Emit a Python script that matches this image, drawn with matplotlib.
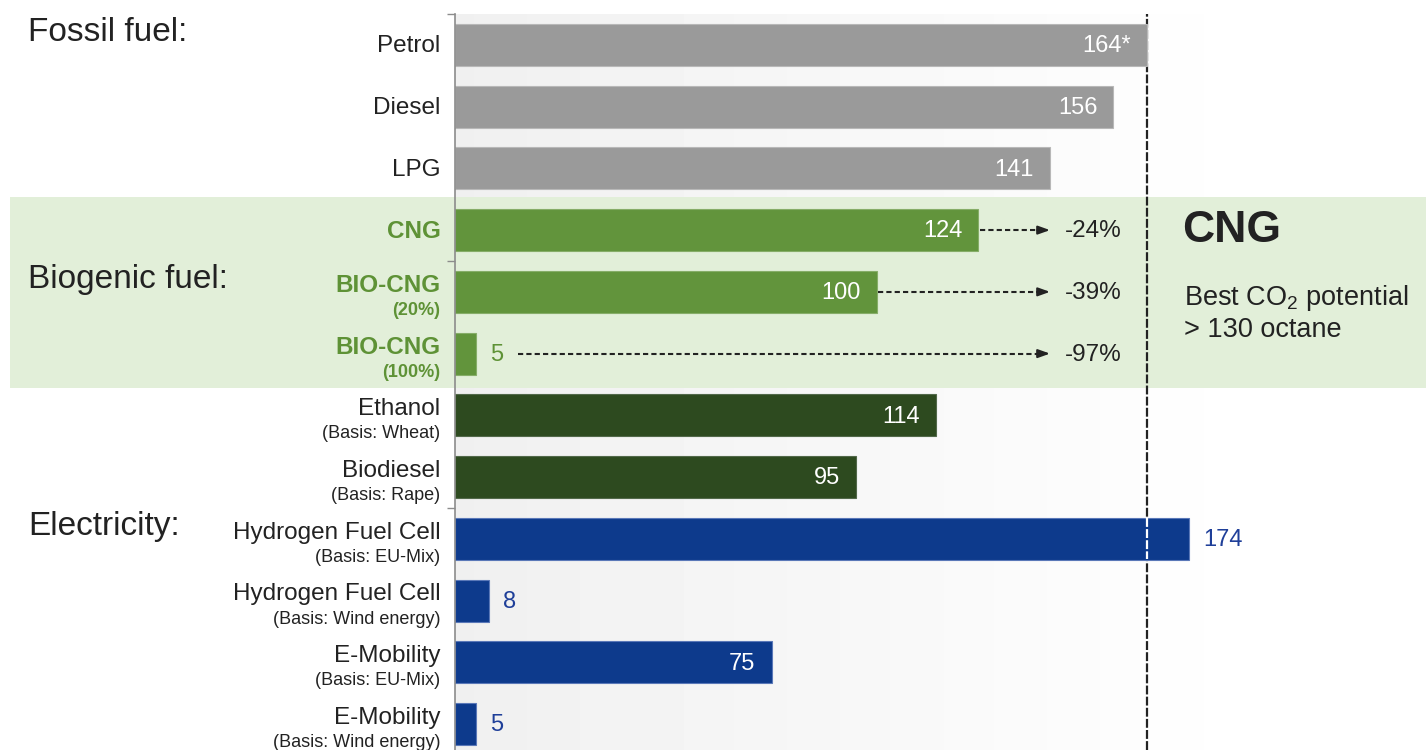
import numpy as np
import matplotlib
matplotlib.use("Agg")
from matplotlib import pyplot as plt

plt.rcParams['font.family'] = ['Liberation Sans', 'DejaVu Sans']
plt.rcParams['mathtext.default'] = 'regular'

# Data
fuels = ["Petrol", "Diesel", "LPG", "CNG", "BIO-CNG", "BIO-CNG", "Ethanol", "Biodiesel",
         "Hydrogen Fuel Cell", "Hydrogen Fuel Cell", "E-Mobility", "E-Mobility"]
notes = ["", "", "", "", "(20%)", "(100%)", "(Basis: Wheat)", "(Basis: Rape)",
         "(Basis: EU-Mix)", "(Basis: Wind energy)", "(Basis: EU-Mix)", "(Basis: Wind energy)"]
co2 = [164, 156, 141, 124, 100, 5, 114, 95, 174, 8, 75, 5]
value_labels = ["164*", "156", "141", "124", "100", "5", "114", "95", "174", "8", "75", "5"]
groups = ["fossil"] * 3 + ["cng"] * 3 + ["bio"] * 2 + ["elec"] * 4
reductions = {3: "-24%", 4: "-39%", 5: "-97%"}
group_titles = ["Fossil fuel:", "Biogenic fuel:", "Electricity:"]

bar_colors = {"fossil": "#9a9a9a", "cng": "#62943c", "bio": "#2d4a1f", "elec": "#0d3a8c"}
edge_colors = {"fossil": "#b8b8b8", "cng": "#86ad68", "bio": "#52694a", "elec": "#5a78b8"}
text_colors = {"fossil": "#222222", "cng": "#5e9236", "bio": "#222222", "elec": "#222222"}
outside_colors = {"fossil": "#222222", "cng": "#5e9236", "bio": "#222222", "elec": "#1f3f99"}

px_per_unit = 4.22


def main():
    fig = plt.figure(figsize=(14.26, 7.5), dpi=100)
    ax = fig.add_axes([455 / 1426, 0, 971 / 1426, 736 / 750])

    y = np.arange(len(co2))

    # light gradient background
    grad = np.linspace(0.94, 1.0, 256).reshape(1, -1)
    ax.imshow(grad, extent=[0, 190, 11.42, -0.5], aspect='auto', cmap='gray',
              vmin=0, vmax=1, zorder=0)

    # green band for the CNG block
    ax.axhspan(2.47, 5.55, xmin=-445 / 971, xmax=1, color="#e2efd9", zorder=0.5,
               clip_on=False, lw=0)

    # reference line at petrol level
    ax.axvline(co2[0], color="#222222", lw=1.6, ls=(0, (4, 1)), zorder=1)

    colors = [bar_colors[g] for g in groups]
    edges = [edge_colors[g] for g in groups]
    ax.barh(y, co2, height=0.68, color=colors, edgecolor=edges, linewidth=0.8, zorder=2)

    # white gap where the reference line crosses a longer bar
    for i, v in enumerate(co2):
        if v > co2[0]:
            ax.plot([co2[0], co2[0]], [i - 0.33, i + 0.33], color="white", lw=1.6,
                    ls=(0, (4, 1)), zorder=3)

    # value labels
    for i, (v, lab) in enumerate(zip(co2, value_labels)):
        if v > 50 and v <= co2[0]:
            ax.text(v - 3.8, i + 0.02, lab, ha='right', va='center', color="white",
                    fontsize=17, zorder=4)
        else:
            ax.text(v + 3.3, i + 0.02, lab, ha='left', va='center',
                    color=outside_colors[groups[i]], fontsize=17, zorder=4)

    # reduction arrows
    arrow_end = 141
    for i, txt in reductions.items():
        start = co2[i] + 0.3 if co2[i] > 50 else co2[i] + 10
        ax.plot([start, arrow_end - 2.5], [i, i], color="#222222", lw=1.5,
                ls=(0, (2.5, 1.5)), zorder=4)
        ax.annotate('', xy=(arrow_end, i), xytext=(arrow_end - 3, i),
                    arrowprops=dict(arrowstyle='-|>,head_length=0.7,head_width=0.25',
                                    color="#222222", lw=1.5, shrinkA=0, shrinkB=0),
                    zorder=4)
        ax.text(arrow_end + 3.6, i + 0.02, txt, ha='left', va='center',
                color="#222222", fontsize=17.5, zorder=4)

    # category labels
    tr = ax.get_yaxis_transform()
    for i, (name, note) in enumerate(zip(fuels, notes)):
        bold = groups[i] == "cng"
        col = text_colors[groups[i]]
        if note:
            ax.text(-0.015, i - 0.1, name, transform=tr, ha='right', va='center',
                    fontsize=17.5, color=col, fontweight='bold' if bold else 'normal')
            ax.text(-0.015, i + 0.3, note, transform=tr, ha='right', va='center',
                    fontsize=13, color=col, fontweight='bold' if bold else 'normal')
        else:
            ax.text(-0.015, i + 0.02, name, transform=tr, ha='right', va='center',
                    fontsize=17.5, color=col, fontweight='bold' if bold else 'normal')

    # group titles
    for title, row in zip(group_titles, [-0.2, 3.8, 7.8]):
        ax.text(-0.440, row, title, transform=tr, ha='left', va='center',
                fontsize=24, color="#222222")

    # CNG side note
    ax.text(172.3, 3.0, "CNG", ha='left', va='center', fontsize=32,
            fontweight='bold', color="#222222")
    ax.text(172.8, 4.1, "Best CO$_2$ potential", ha='left', va='center',
            fontsize=19.5, color="#222222")
    ax.text(172.8, 4.62, "> 130 octane", ha='left', va='center',
            fontsize=19.5, color="#222222")

    ax.set_xlim(0, 971 / px_per_unit)
    ax.set_ylim(11.42, -0.5)
    for s in ["top", "right", "bottom"]:
        ax.spines[s].set_visible(False)
    ax.spines["left"].set_color("#8c8c8c")
    ax.spines["left"].set_linewidth(1.2)
    ax.set_xticks([])
    ax.set_yticks([-0.5, 3.5, 7.5])
    ax.set_yticklabels([])
    ax.tick_params(axis='y', length=6, color="#8c8c8c", width=1)
    ax.patch.set_alpha(0)

    fig.savefig("out.png", dpi=100)


if __name__ == "__main__":
    main()
